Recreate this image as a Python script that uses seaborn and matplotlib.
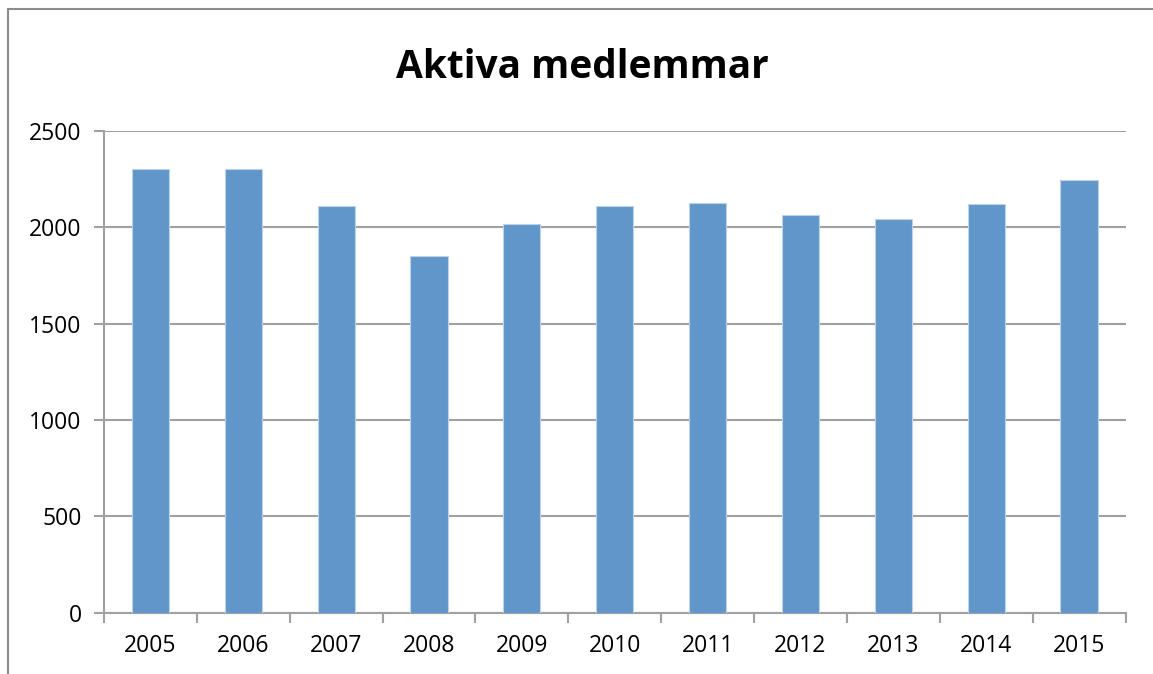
import matplotlib.pyplot as plt
import seaborn as sns
import pandas as pd
from matplotlib.lines import Line2D
from matplotlib.ticker import FixedLocator

years = ["2005", "2006", "2007", "2008", "2009", "2010",
         "2011", "2012", "2013", "2014", "2015"]
members = [2303, 2303, 2109, 1849, 2017, 2109, 2128, 2062, 2045, 2121, 2247]
y_ticks = [0, 500, 1000, 1500, 2000, 2500]

W, H = 1153, 674
df = pd.DataFrame({"year": years, "members": members})

sns.set_style("white")
plt.rcParams["font.family"] = ["Open Sans", "DejaVu Sans"]
plt.rcParams["text.color"] = "black"
plt.rcParams["xtick.color"] = "black"
plt.rcParams["ytick.color"] = "black"

fig = plt.figure(figsize=(W / 100, H / 100), dpi=100)
ax = fig.add_axes([104 / W, 1 - 612.7 / H, (1125.5 - 104) / W, (612.7 - 131) / H])

sns.barplot(data=df, x="year", y="members", color="#6096C9", width=0.4,
            saturation=1, edgecolor="#BCD2EA", linewidth=0.8, ax=ax, zorder=3)

ax.set_ylim(0, 2500)
ax.set_xlim(-0.5, len(years) - 0.5)
ax.set_yticks(y_ticks)
ax.yaxis.grid(True, color="#A0A0A0", linewidth=1.5, zorder=0)
ax.set_axisbelow(True)

# category boundaries carry tick marks, labels sit in between
ax.xaxis.set_major_locator(FixedLocator([i - 0.5 for i in range(len(years) + 1)]))
ax.xaxis.set_minor_locator(FixedLocator(range(len(years))))
ax.set_xticklabels([""] * (len(years) + 1))
ax.set_xticklabels(years, minor=True)
ax.tick_params(axis="x", which="major", direction="out", length=7, width=1.5,
               color="#A0A0A0", bottom=True)
ax.tick_params(axis="x", which="minor", length=0, pad=15, labelsize=16.5)
ax.tick_params(axis="y", direction="out", length=7, width=1.5, color="#A0A0A0",
               left=True, labelsize=16.5, pad=9)

for side in ["top", "right"]:
    ax.spines[side].set_visible(False)
for side in ["left", "bottom"]:
    ax.spines[side].set_color("#A0A0A0")
    ax.spines[side].set_linewidth(1.5)

ax.set_xlabel("")
ax.set_ylabel("")

fig.text(582 / W, 1 - 67 / H, "Aktiva medlemmar", ha="center", va="center",
         fontsize=28, fontweight="bold", color="black")

# outer chart frame
fig.add_artist(Line2D([7.5 / W, 7.5 / W], [0, 1 - 9 / H], transform=fig.transFigure,
                      color="#8C8C8C", linewidth=1.5))
fig.add_artist(Line2D([7.5 / W, 1], [1 - 9 / H, 1 - 9 / H], transform=fig.transFigure,
                      color="#8C8C8C", linewidth=1.5))

fig.savefig("out.png", dpi=100)
